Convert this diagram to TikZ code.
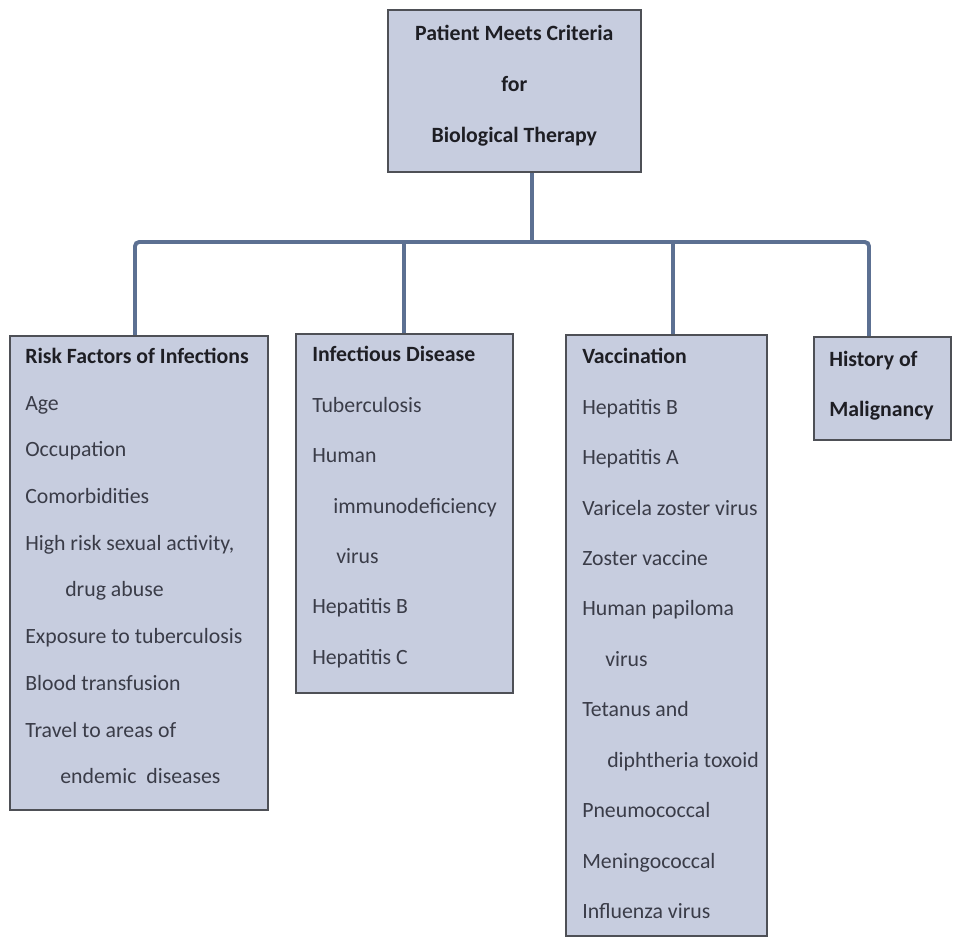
\documentclass[tikz,border=0pt]{standalone}
\usepackage{fontspec}
\setmainfont{Carlito}
\usepackage{xcolor}
\usepackage{tikz}
\usetikzlibrary{positioning, calc}

\definecolor{panelfill}{RGB}{199,205,223}
\definecolor{panelline}{RGB}{78,80,86}
\definecolor{linkblue}{RGB}{92,112,146}
\definecolor{itemtext}{RGB}{58,60,72}
\definecolor{headtext}{RGB}{30,30,36}

\begin{document}
\begin{tikzpicture}[
        panel/.style={rectangle, draw=panelline, line width=1.1pt, fill=panelfill, anchor=north west, inner sep=0pt},
        items/.style={anchor=north west, align=left, inner sep=0pt, text=itemtext, font=\fontsize{15.5}{35.9}\selectfont},
        head/.style={font=\bfseries, text=headtext},
        link/.style={draw=linkblue, line width=2.8pt}
    ]
        \useasboundingbox (0,0) rectangle (23.85,-23.45);

        % ===== boxes =====
        \node (therapy) [panel, minimum width=6.325cm, minimum height=4.05cm, align=center, text=headtext, font=\fontsize{15.5}{36}\selectfont\bfseries] at (9.675,-0.225) {Patient Meets Criteria\\for\\Biological Therapy\rule[-10pt]{0pt}{10pt}};
        \node (riskbox) [panel, minimum width=6.45cm, minimum height=11.85cm] at (0.225,-8.375) {};
        \node (infectbox) [panel, minimum width=5.425cm, minimum height=8.975cm] at (7.375,-8.325) {};
        \node (vaccbox) [panel, minimum width=5.025cm, minimum height=15.025cm] at (14.125,-8.35) {};
        \node (malignbox) [panel, minimum width=3.425cm, minimum height=2.575cm] at (20.325,-8.4) {};

        % ===== box texts =====
        \node (riskitems) [items, font=\fontsize{15.5}{33.2}\selectfont] at ($(riskbox.north west)+(0.4,-0.325)$) {%
            {\bfseries\color{headtext}Risk Factors of Infections}\\
            Age\\
            Occupation\\
            Comorbidities\\
            High risk sexual activity,\\
            \hspace*{1cm}drug abuse\\
            Exposure to tuberculosis\\
            Blood transfusion\\
            Travel to areas of\\
            \hspace*{0.875cm}endemic\ \ diseases};
        \node (infectitems) [items] at ($(infectbox.north west)+(0.425,-0.325)$) {%
            {\bfseries\color{headtext}Infectious Disease}\\
            Tuberculosis\\
            Human\\
            \hspace*{0.525cm}immunodeficiency\\
            \hspace*{0.6cm}virus\\
            Hepatitis B\\
            Hepatitis C};
        \node (vaccitems) [items] at ($(vaccbox.north west)+(0.425,-0.35)$) {%
            {\bfseries\color{headtext}Vaccination}\\
            Hepatitis B\\
            Hepatitis A\\
            Varicela zoster virus\\
            Zoster vaccine\\
            Human papiloma\\
            \hspace*{0.575cm}virus\\
            Tetanus and\\
            \hspace*{0.625cm}diphtheria toxoid\\
            Pneumococcal\\
            Meningococcal\\
            Influenza virus};
        \node (malignitems) [items, head, font=\fontsize{15.5}{35.5}\selectfont\bfseries] at ($(malignbox.north west)+(0.4,-0.375)$) {History of\\Malignancy};

        % ===== connectors =====
        \coordinate (hub) at (13.3,-6.05);
        \coordinate (drop1) at (3.375,-6.05);
        \coordinate (drop2) at (10.1,-6.05);
        \coordinate (drop3) at (16.825,-6.05);
        \coordinate (drop4) at (21.725,-6.05);
        \draw [link] (hub |- therapy.south) -- (hub);
        \draw [link, rounded corners=3pt] (drop1 |- riskbox.north) -- (drop1) -- (drop4) -- (drop4 |- malignbox.north);
        \draw [link] (drop2) -- (drop2 |- infectbox.north);
        \draw [link] (drop3) -- (drop3 |- vaccbox.north);

    \end{tikzpicture}
\end{document}
